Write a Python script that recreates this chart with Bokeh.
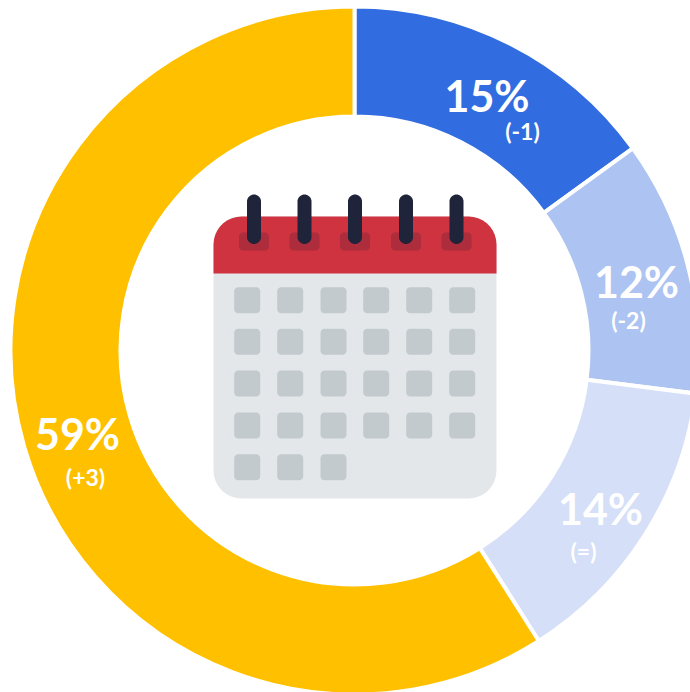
import math
from bokeh.plotting import figure
from bokeh.embed import file_html
from bokeh.resources import INLINE
from bokeh.core.properties import value

shares = [15, 12, 14, 59]
colors = ["#316CE0", "#ADC3F1", "#D5DFF7", "#FFC000"]
main_labels = ["15%", "12%", "14%", "59%"]
main_x = [486.5, 636, 600, 77]
main_y = [94.5, 280.5, 507.5, 432.5]
sub_labels = ["(-1)", "(-2)", "(=)", "(+3)"]
sub_x = [522, 628, 583, 85]
sub_y = [130, 319.5, 550.5, 476.5]

cx, cy, r_out, r_in = 354, 350, 344, 234
H = 692
FONT = "Lato"

def Y(py):
    return H - py

p = figure(width=690, height=692, x_range=(0, 690), y_range=(0, 692),
           output_backend="svg", toolbar_location=None, min_border=0)
p.axis.visible = False
p.grid.visible = False
p.outline_line_color = None
p.background_fill_color = "#FFFFFF"

cum = 0.0
for s, c in zip(shares, colors):
    start = math.pi / 2 - cum / 100 * 2 * math.pi
    cum += s
    end = math.pi / 2 - cum / 100 * 2 * math.pi
    p.annular_wedge(x=[cx], y=[Y(cy)], inner_radius=r_in, outer_radius=r_out,
                    start_angle=start, end_angle=end, direction="clock",
                    fill_color=c, line_color="#FFFFFF", line_width=4)

def rrect(x0, y0, x1, y1, rt, rb=None):
    rb = rt if rb is None else rb
    xs, ys = [], []
    for (ax, ay, r, a0) in [(x1 - rt, y0 + rt, rt, -90), (x1 - rb, y1 - rb, rb, 0),
                            (x0 + rb, y1 - rb, rb, 90), (x0 + rt, y0 + rt, rt, 180)]:
        n = 10 if r > 0 else 1
        for i in range(n):
            a = math.radians(a0 + 90 * i / max(n - 1, 1))
            xs.append(ax + r * math.cos(a))
            ys.append(Y(ay + r * math.sin(a)))
    return xs, ys

def shape(x0, y0, x1, y1, rt, rb, color):
    xs, ys = rrect(x0, y0, x1, y1, rt, rb)
    p.patch(xs, ys, fill_color=color, line_color=None)

# calendar icon
shape(213, 216, 496, 498, 28, 28, "#E3E7EA")
# header: rounded top, square bottom
shape(213, 216, 496, 273, 28, 0, "#CF3340")

tab_x = [253.5, 304, 354.5, 405.5, 456]
for tx in tab_x:
    shape(tx - 15, 232, tx + 15, 250, 4, 4, "#AE2D3D")
for tx in tab_x:
    shape(tx - 7, 194, tx + 7, 243.5, 7, 7, "#20243A")

col_x = [233.7, 276.7, 320, 362.7, 405.7, 448.7]
row_y = [286.7, 328.3, 370, 412, 453.7]
for j, ry in enumerate(row_y):
    cols = col_x if j < 4 else col_x[:3]
    for cxx in cols:
        shape(cxx, ry, cxx + 26, ry + 26, 4, 4, "#C2CACD")

p.text(x=main_x, y=[Y(v) for v in main_y], text=main_labels, text_color="#FFFFFF",
       text_font=value(FONT), text_font_style="bold", text_font_size="43px",
       text_align="center", text_baseline="middle")
p.text(x=sub_x, y=[Y(v) for v in sub_y], text=sub_labels, text_color="#FFFFFF",
       text_font=value(FONT), text_font_style="bold", text_font_size="23px",
       text_align="center", text_baseline="middle")

open("out.html", "w").write(file_html(p, INLINE))
